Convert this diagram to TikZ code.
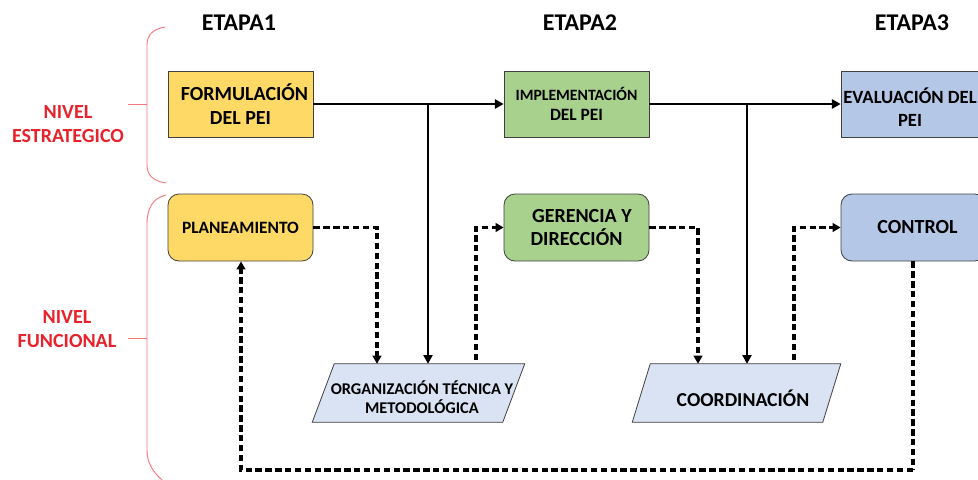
\documentclass[tikz,border=0pt]{standalone}
\usepackage{fontspec}
\setmainfont{Carlito}
\usetikzlibrary{arrows.meta,calc}
\definecolor{cyel}{HTML}{FFD966}
\definecolor{cgrn}{HTML}{A9D18E}
\definecolor{cblu}{HTML}{B4C7E7}
\definecolor{clbl}{HTML}{DAE3F3}
\definecolor{cbord}{HTML}{404040}
\definecolor{cbrace}{HTML}{F4787E}
\definecolor{cred}{HTML}{E8222B}
\def\px{0.75pt}
\tikzset{
  box/.style={draw=cbord, line width=0.6pt, minimum width=145*\px, minimum height=66*\px, align=center, font=\bfseries, inner sep=1pt},
  rbox/.style={box, rounded corners=11*\px},
  plain/.style={minimum width=190*\px, minimum height=58*\px, align=center, font=\bfseries, inner sep=0pt},
  para/.style={draw=cbord, line width=0.6pt, fill=clbl},
  solidarr/.style={draw=black, line width=0.9pt, -{Triangle[length=6.5pt,width=7pt]}},
  solidln/.style={draw=black, line width=0.9pt},
  dasharr/.style={draw=black, line width=2.4pt, dash pattern=on 4.8pt off 2.6pt, -{Triangle[length=6pt,width=6.5pt]}},
  dashln/.style={draw=black, line width=2.4pt, dash pattern=on 4.8pt off 2.6pt},
  brace/.style={draw=cbrace, line width=0.7pt},
  lvl/.style={text=cred, font=\bfseries\fontsize{15pt}{18pt}\selectfont, align=center},
  etapa/.style={font=\bfseries\fontsize{18pt}{21pt}\selectfont}
}
\begin{document}
\begin{tikzpicture}[x=0.75pt, y=-0.75pt]
\useasboundingbox (0,0) rectangle (978,479);
\clip (0,0) rectangle (978,479);

% stage titles
\node[etapa] (e1) at (239,23) {ETAPA1};
\node[etapa] (e2) at (580,23) {ETAPA2};
\node[etapa] (e3) at (912,23) {ETAPA3};

% braces
\draw[brace] (165,27) .. controls (153,29) and (147,35) .. (147,45) -- (147,165) .. controls (147,175) and (153,181) .. (166,183);
\draw[brace] (128,104) -- (147,104);
\draw[brace] (166,195) .. controls (153,198) and (147,208) .. (147,224) -- (147,450) .. controls (147,462) and (152,471) .. (162,480);
\draw[brace] (128,338) -- (147,338);
\node[lvl] (ne) at (68,124) {NIVEL\\ESTRATEGICO};
\node[lvl] (nf) at (67,329) {NIVEL\\FUNCIONAL};

% strategic boxes
\node[box, fill=cyel, font=\bfseries\fontsize{15pt}{17.5pt}\selectfont] (form) at (240.5,104) {\hspace*{6pt}FORMULACIÓN\\DEL PEI};
\node[box, fill=cgrn] (impl) at (576.5,104) {\fontsize{11.8pt}{14pt}\selectfont IMPLEMENTACIÓN\\[3pt]\fontsize{13pt}{15pt}\selectfont DEL PEI};
\node[box, fill=cblu] (eval) at (913.5,104) {};
\node[font=\bfseries\fontsize{14pt}{17.5pt}\selectfont, align=center] (evalt) at (910,107) {EVALUACIÓN DEL\\PEI};

% functional boxes
\node[rbox, fill=cyel, minimum height=67*\px, font=\bfseries\fontsize{13pt}{15pt}\selectfont] (plan) at (240.5,227.5) {PLANEAMIENTO};
\node[rbox, fill=cgrn, minimum height=67*\px, font=\bfseries\fontsize{15pt}{17.5pt}\selectfont] (ger) at (576.5,227.5) {\hspace*{8pt}GERENCIA Y\\DIRECCIÓN};
\node[rbox, fill=cblu, minimum height=67*\px, font=\bfseries\fontsize{15pt}{17.5pt}\selectfont] (ctrl) at (913.5,227.5) {\hspace*{6pt}CONTROL};

% parallelograms
\node[plain] (org) at (418.5,393) {};
\draw[para] ($(org.south west)+(-11,0)$) -- ($(org.north west)+(11,0)$) -- ($(org.north east)+(11,0)$) -- ($(org.south east)+(-11,0)$) -- cycle;
\node[font=\bfseries\fontsize{12.3pt}{14.5pt}\selectfont, align=center] (orgt) at (422,397) {ORGANIZACIÓN TÉCNICA Y\\METODOLÓGICA};

\node[plain] (coord) at (736.5,393) {};
\draw[para] ($(coord.south west)+(-9,0)$) -- ($(coord.north west)+(9,0)$) -- ($(coord.north east)+(9,0)$) -- ($(coord.south east)+(-9,0)$) -- cycle;
\node[font=\bfseries\fontsize{14.8pt}{17pt}\selectfont] (coordt) at (743,398) {COORDINACIÓN};

% solid connectors
\draw[solidarr] (form.east) -- (impl.west);
\draw[solidarr] (impl.east) -- (eval.west);
\coordinate (b1) at (428,104);
\coordinate (b2) at (747,104);
\draw[solidarr] (b1) -- (b1 |- org.north);
\draw[solidarr] (b2) -- (b2 |- coord.north);

% dashed connectors
\coordinate (d1) at (377,227.5);
\draw[dasharr] (plan.east) -| (d1 |- org.north);
\coordinate (d2) at (476,360);
\draw[dasharr] (d2) |- (ger.west);
\coordinate (d3) at (698,227.5);
\draw[dasharr] (ger.east) -| (d3 |- coord.north);
\coordinate (d4) at (794,360);
\draw[dasharr] (d4) |- (ctrl.west);
\coordinate (d5) at (913,470);
\draw[dashln] (ctrl.south -| d5) -- (d5);
\draw[dasharr] (d5) -| (241,470) -- (plan.south -| 241,0);
\end{tikzpicture}
\end{document}
